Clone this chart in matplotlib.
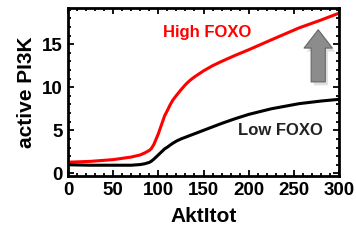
import numpy as np
import matplotlib.pyplot as plt
from matplotlib.ticker import MultipleLocator

plt.rcParams['font.family'] = ['Liberation Sans', 'DejaVu Sans']

# values
akt = [0, 25, 50, 70, 80, 85, 90, 92, 95, 97, 100, 102, 105, 107, 110, 113, 116, 120,
       125, 130, 135, 140, 150, 160, 170, 185, 200, 225, 256, 280, 300]
high_foxo = [1.3, 1.4, 1.6, 1.9, 2.15, 2.38, 2.67, 2.85, 3.35, 3.85, 4.6, 5.2, 6.1, 6.7, 7.3,
             7.95, 8.5, 9.05, 9.7, 10.3, 10.8, 11.2, 11.9, 12.5, 13.0, 13.7, 14.35, 15.5, 16.9, 17.8, 18.6]
low_foxo = [1.0, 0.95, 0.95, 0.95, 1.03, 1.12, 1.28, 1.4, 1.65, 1.85, 2.15, 2.35, 2.65, 2.85, 3.05,
            3.28, 3.5, 3.75, 4.0, 4.2, 4.4, 4.6, 5.0, 5.4, 5.8, 6.35, 6.85, 7.5, 8.1, 8.4, 8.6]

fig = plt.figure(figsize=(3.56, 2.4), dpi=100)
ax = fig.add_axes([68 / 356, 64 / 240, 271 / 356, 168 / 240])

ax.plot(akt, high_foxo, color='#ff0000', lw=2.2)
ax.plot(akt, low_foxo, color='black', lw=2.2)

ax.set_xlim(0, 300)
ax.set_ylim(-0.3, 19.2)
ax.xaxis.set_major_locator(MultipleLocator(50))
ax.xaxis.set_minor_locator(MultipleLocator(10))
ax.yaxis.set_major_locator(MultipleLocator(5))
ax.yaxis.set_minor_locator(MultipleLocator(1))
ax.tick_params(which='both', direction='in', top=True, right=True, width=1.3)
ax.tick_params(which='major', length=4, labelsize=13.5, pad=4)
ax.tick_params(which='minor', length=2)
for lab in ax.get_xticklabels() + ax.get_yticklabels():
    lab.set_fontweight('bold')
for s in ax.spines.values():
    s.set_linewidth(2)

ax.set_xlabel('AktItot', fontsize=15, fontweight='bold', labelpad=6)
ax.set_ylabel('active PI3K', fontsize=15, fontweight='bold', labelpad=4)

ax.text(154, 16.4, 'High FOXO', color='#ff0000', fontsize=12, fontweight='bold',
        ha='center', va='center')
ax.text(235, 5.0, 'Low FOXO', color='#222222', fontsize=12, fontweight='bold',
        ha='center', va='center')

# shadow then arrow
ax.annotate('', xy=(280, 16.6), xytext=(280, 9.9),
            arrowprops=dict(arrowstyle='simple,head_width=1.7,head_length=1.1,tail_width=0.85',
                            fc='#cccccc', ec='none', mutation_scale=12, alpha=0.6))
ax.annotate('', xy=(277, 17.0), xytext=(277, 10.3),
            arrowprops=dict(arrowstyle='simple,head_width=1.7,head_length=1.1,tail_width=0.85',
                            fc='#8c8c8c', ec='#666666', lw=0.8, mutation_scale=12))

fig.savefig('out.png', dpi=100)
